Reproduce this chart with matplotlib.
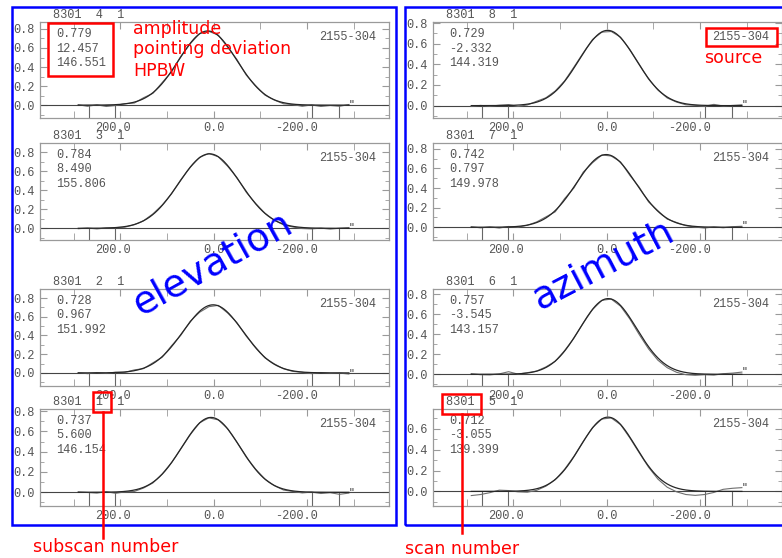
import matplotlib
matplotlib.use('Agg')
import matplotlib.pyplot as plt
import numpy as np
from matplotlib import transforms as mtransforms
from matplotlib.lines import Line2D
from matplotlib.patches import Rectangle

W, H, DPI = 782, 558, 100

scan_no = 8301
source = '2155-304'

# scan positions of the sampled cross-scan data
offsets = [290, 270, 250, 230, 210, 190, 170, 150, 130, 110,
           90, 70, 50, 30, 10, -10, -30, -50, -70, -90,
           -110, -130, -150, -170, -190, -210, -230, -250, -270, -290]

# elevation subscans (left column, top to bottom)
elev_subscans = [4, 3, 2, 1]
elev_amp = [0.779, 0.784, 0.728, 0.737]
elev_offset = [12.457, 8.490, 0.967, 5.600]
elev_hpbw = [146.551, 155.806, 151.992, 146.154]
elev_ylim = [(-0.135, 0.873), (-0.123, 0.898), (-0.14, 0.897), (-0.135, 0.82)]
elev_data = [
    [0.004, -0.012, 0.003, -0.014, -0.004, 0.016, 0.022, 0.078, 0.124, 0.238,
     0.350, 0.514, 0.644, 0.752, 0.774, 0.736, 0.610, 0.480, 0.316, 0.206,
     0.106, 0.054, 0.014, 0.006, -0.012, 0.002, -0.014, -0.004, -0.012, 0.006],
    [-0.004, 0.003, -0.006, 0.004, 0.008, 0.012, 0.038, 0.080, 0.152, 0.246,
     0.364, 0.513, 0.642, 0.747, 0.788, 0.753, 0.654, 0.535, 0.380, 0.263,
     0.160, 0.086, 0.036, 0.014, -0.002, -0.006, 0.002, -0.008, 0.001, 0.008],
    [0.003, -0.008, 0.004, -0.006, 0.008, 0.006, 0.032, 0.046, 0.108, 0.168,
     0.291, 0.404, 0.552, 0.648, 0.708, 0.722, 0.641, 0.538, 0.393, 0.275,
     0.161, 0.097, 0.044, 0.016, 0.006, -0.008, 0.004, -0.006, -0.002, -0.012],
    [0.004, -0.002, -0.008, 0.006, -0.010, 0.004, 0.008, 0.042, 0.092, 0.181,
     0.293, 0.429, 0.567, 0.684, 0.733, 0.713, 0.627, 0.493, 0.347, 0.229,
     0.131, 0.066, 0.022, 0.008, -0.006, 0.002, -0.012, -0.004, -0.020, -0.008],
]

# azimuth subscans (right column, top to bottom)
azim_subscans = [8, 7, 6, 5]
azim_amp = [0.729, 0.742, 0.757, 0.712]
azim_offset = [-2.332, 0.797, -3.545, -3.055]
azim_hpbw = [144.319, 149.978, 143.157, 139.399]
azim_ylim = [(-0.12, 0.81), (-0.13, 0.86), (-0.117, 0.853), (-0.14, 0.79)]
azim_data = [
    [-0.008, 0.002, -0.006, 0.004, 0.010, -0.008, 0.006, 0.042, 0.076, 0.142,
     0.239, 0.373, 0.511, 0.641, 0.712, 0.718, 0.663, 0.543, 0.401, 0.257,
     0.151, 0.074, 0.034, 0.008, 0.003, -0.006, 0.012, -0.004, 0.002, 0.008],
    [0.006, -0.006, 0.004, -0.008, 0.008, 0.002, 0.020, 0.054, 0.106, 0.158,
     0.292, 0.401, 0.563, 0.659, 0.738, 0.727, 0.667, 0.529, 0.409, 0.259,
     0.169, 0.083, 0.049, 0.016, 0.002, -0.008, 0.004, -0.005, 0.006, 0.010],
    [0.006, -0.004, -0.006, 0.004, 0.026, 0.002, 0.016, 0.032, 0.074, 0.130,
     0.237, 0.361, 0.513, 0.648, 0.740, 0.752, 0.681, 0.552, 0.397, 0.254,
     0.141, 0.066, 0.020, -0.004, -0.010, -0.004, -0.008, 0.006, 0.012, 0.022],
    [-0.040, -0.030, -0.012, 0.012, 0.008, -0.004, -0.008, 0.010, 0.050, 0.112,
     0.212, 0.336, 0.480, 0.612, 0.694, 0.704, 0.640, 0.512, 0.370, 0.232,
     0.118, 0.040, -0.004, -0.030, -0.038, -0.030, -0.010, 0.020, 0.030, 0.036],
]

baseline_marks = [268, 211, -211, -268]
xtick_major = [200, 0, -200]
xtick_minor = [300, 100, -100, -300]

GREY = '#555555'
SPINE = '#9a9a9a'
plt.rcParams['font.family'] = ['Liberation Mono', 'DejaVu Sans Mono']

fig = plt.figure(figsize=(W / DPI, H / DPI), dpi=DPI)


def fx(x):
    return x / W


def fy(y):
    return 1 - y / H


def panel(x0, top, bottom, sub, amp, off, hpbw, data, ylim):
    ax = fig.add_axes([fx(x0), fy(bottom), 349 / W, (bottom - top) / H])
    ax.set_xlim(372, -376)
    ax.set_ylim(*ylim)
    for s in ax.spines.values():
        s.set_color(SPINE)
        s.set_linewidth(0.9)

    yt = [t for t in (0.0, 0.2, 0.4, 0.6, 0.8) if t <= ylim[1]]
    ax.set_yticks(yt)
    ax.set_yticklabels(['%.1f' % t for t in yt])
    ax.set_yticks(np.arange(-0.1, ylim[1], 0.1), minor=True)
    ax.set_xticks(xtick_major)
    ax.set_xticks(xtick_minor, minor=True)
    ax.tick_params(axis='both', which='both', direction='in', color=SPINE,
                   top=True, right=True, labelsize=8.6, labelcolor=GREY)
    ax.tick_params(axis='both', which='major', length=5, pad=4)
    ax.tick_params(axis='y', which='minor', length=3)
    ax.tick_params(axis='x', which='minor', length=5)
    ax.tick_params(axis='x', labelbottom=False)

    # offset labels sit with the decimal point on the tick
    trans = mtransforms.blended_transform_factory(ax.transData, ax.transAxes)
    shift = mtransforms.ScaledTranslation(10.6 / DPI, -4 / DPI, fig.dpi_scale_trans)
    for v in xtick_major:
        ax.text(v, 0, '%.1f' % v, transform=trans + shift, ha='right', va='top',
                fontsize=8.6, color=GREY)

    ax.axhline(0, color='#444444', lw=0.8)
    ax.vlines(baseline_marks, ylim[0], 0, color='#666666', lw=0.8)

    # measured scan and its gaussian fit
    ax.plot(offsets, data, color='#6e6e6e', lw=0.8)
    xs = np.linspace(offsets[0], offsets[-1], 400)
    fit = amp * np.exp(-4 * np.log(2) * ((xs - off) / hpbw) ** 2)
    ax.plot(xs, fit, color='#262626', lw=0.9)
    ax.text(offsets[-1], data[-1], '"', fontsize=7, color='#333333',
            ha='left', va='center')

    ax.annotate('%d  %d  1' % (scan_no, sub), xy=(0, 1), xycoords='axes fraction',
                xytext=(13, 7), textcoords='offset pixels', va='center',
                fontsize=8.6, color=GREY)
    for k, v in enumerate((amp, off, hpbw)):
        ax.annotate('%.3f' % v, xy=(0, 1), xycoords='axes fraction',
                    xytext=(16, -12 - 14.5 * k), textcoords='offset pixels',
                    va='center', fontsize=8.6, color=GREY)
    ax.annotate(source, xy=(1, 1), xycoords='axes fraction', xytext=(-13, -15),
                textcoords='offset pixels', va='center', ha='right',
                fontsize=8.6, color=GREY)
    return ax


rows = [(22, 118), (143, 240), (289, 386), (409, 506)]
for i, (top, bottom) in enumerate(rows):
    panel(40, top, bottom, elev_subscans[i], elev_amp[i], elev_offset[i],
          elev_hpbw[i], elev_data[i], elev_ylim[i])
    panel(433, top, bottom, azim_subscans[i], azim_amp[i], azim_offset[i],
          azim_hpbw[i], azim_data[i], azim_ylim[i])


def box(x0, y0, x1, y1, color, lw):
    fig.add_artist(Rectangle((fx(x0), fy(y1)), (x1 - x0) / W, (y1 - y0) / H,
                             transform=fig.transFigure, fill=False,
                             ec=color, lw=lw, zorder=5))


def line(x0, y0, x1, y1, color, lw):
    fig.add_artist(Line2D([fx(x0), fx(x1)], [fy(y0), fy(y1)],
                          transform=fig.transFigure, color=color, lw=lw, zorder=5))


# column frames
box(12, 7, 396, 525, 'blue', 1.8)
box(405, 7, 800, 525, 'blue', 1.8)

label_font = dict(family='DejaVu Sans', color='red', fontsize=12.5)
box(48, 23, 113, 76, 'red', 1.8)
fig.text(fx(133), fy(34), 'amplitude', va='baseline', **label_font)
fig.text(fx(133), fy(54), 'pointing deviation', va='baseline', **label_font)
fig.text(fx(133), fy(76), 'HPBW', va='baseline', **label_font)

box(706, 28, 777, 46, 'red', 1.8)
fig.text(fx(704), fy(63), 'source', va='baseline', **label_font)

box(93, 392, 111, 412, 'red', 1.8)
line(102.5, 412, 102.5, 538, 'red', 1.8)
fig.text(fx(33), fy(552), 'subscan number', va='baseline', **label_font)

box(442, 394, 481, 414, 'red', 1.8)
line(461.5, 414, 461.5, 533, 'red', 1.8)
fig.text(fx(405), fy(554), 'scan number', va='baseline', **label_font)

big = dict(family='DejaVu Sans', color='blue', fontsize=27.5,
           rotation_mode='anchor', ha='center', va='baseline')
fig.text(fx(218), fy(273), 'elevation', rotation=29, **big)
fig.text(fx(608), fy(274), 'azimuth', rotation=27.5, **big)

fig.savefig('out.png', dpi=DPI)
